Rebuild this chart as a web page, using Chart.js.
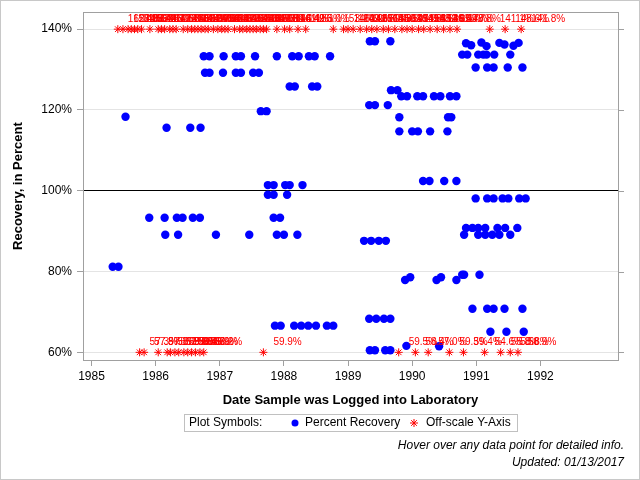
<!DOCTYPE html>
<html>
<head>
<meta charset="utf-8">
<script src="https://cdn.jsdelivr.net/npm/chart.js@4.4.1/dist/chart.umd.min.js"></script>
<style>
html, body { margin: 0; padding: 0; background: #fff; }
#wrap { width: 640px; height: 480px; }
</style>
</head>
<body>
<div id="wrap"><canvas id="graficoRecuperacion" width="640" height="480"></canvas></div>
<script>
// Percent Recovery (blue dots): year logged and recovery in percent
const recoveryYears = [
    1985.33, 1985.42, 1985.53,
    1985.90, 1986.14, 1986.33, 1986.42, 1986.58, 1986.69,
    1986.15, 1986.35, 1986.94, 1987.46,
    1986.17, 1986.54, 1986.70,
    1986.75, 1986.84, 1987.06, 1987.25, 1987.33, 1987.55, 1987.89, 1988.13, 1988.23, 1988.39, 1988.48, 1988.72,
    1986.77, 1986.84, 1987.05, 1987.25, 1987.33, 1987.52, 1987.61,
    1988.09, 1988.17, 1988.44, 1988.52,
    1987.64, 1987.73,
    1987.75, 1987.84, 1988.02, 1988.09, 1988.29,
    1987.75, 1987.84, 1988.05,
    1987.84, 1987.94,
    1987.89, 1988.00, 1988.21,
    1987.86, 1987.95, 1988.16, 1988.27, 1988.38, 1988.50, 1988.67, 1988.77,
    1989.34, 1989.42, 1989.66,
    1990.84, 1990.92, 1991.08, 1991.16, 1991.36, 1991.44, 1991.58, 1991.66,
    1990.78, 1990.86, 1991.03, 1991.11, 1991.16, 1991.28, 1991.53,
    1990.99, 1991.17, 1991.27, 1991.49, 1991.72,
    1989.67, 1989.77,
    1989.83, 1989.92, 1990.08, 1990.17, 1990.34, 1990.44, 1990.59, 1990.69,
    1989.33, 1989.42, 1989.62,
    1989.80, 1990.56, 1990.61,
    1989.80, 1990.00, 1990.09, 1990.28, 1990.55,
    1990.17, 1990.27, 1990.50, 1990.69,
    1990.99, 1991.17, 1991.27, 1991.41, 1991.50, 1991.67, 1991.77,
    1990.84, 1990.94, 1991.03, 1991.14, 1991.33, 1991.45, 1991.64,
    1990.81, 1991.03, 1991.14, 1991.25, 1991.36, 1991.53,
    1989.25, 1989.36, 1989.48, 1989.59,
    1989.89, 1989.97, 1990.38, 1990.45, 1990.69, 1990.78, 1990.81, 1991.05,
    1990.94, 1991.17, 1991.27, 1991.44, 1991.72,
    1989.33, 1989.44, 1989.56, 1989.66,
    1991.22, 1991.47, 1991.74,
    1989.34, 1989.42, 1989.58, 1989.66,
    1989.91, 1990.42
];
const recoveryValues = [
    81.2, 81.2, 118.3,
    93.3, 93.3, 93.3, 93.3, 93.3, 93.3,
    89.1, 89.1, 89.1, 89.1,
    115.6, 115.6, 115.6,
    133.3, 133.3, 133.3, 133.3, 133.3, 133.3, 133.3, 133.3, 133.3, 133.3, 133.3, 133.3,
    129.2, 129.2, 129.2, 129.2, 129.2, 129.2, 129.2,
    125.8, 125.8, 125.8, 125.8,
    119.7, 119.7,
    101.4, 101.4, 101.4, 101.4, 101.4,
    99.0, 99.0, 99.0,
    93.3, 93.3,
    89.1, 89.1, 89.1,
    66.6, 66.6, 66.6, 66.6, 66.6, 66.6, 66.6, 66.6,
    137.0, 137.0, 137.0,
    136.5, 136.0, 136.7, 135.8, 136.6, 136.2, 135.9, 136.6,
    133.7, 133.7, 133.7, 133.7, 133.7, 133.7, 133.7,
    130.5, 130.5, 130.5, 130.5, 130.5,
    124.9, 124.9,
    123.4, 123.4, 123.4, 123.4, 123.4, 123.4, 123.4, 123.4,
    121.2, 121.2, 121.2,
    118.2, 118.2, 118.2,
    114.7, 114.7, 114.7, 114.7, 114.7,
    102.4, 102.4, 102.4, 102.4,
    98.1, 98.1, 98.1, 98.1, 98.1, 98.1, 98.1,
    90.8, 90.8, 90.8, 90.8, 90.8, 90.8, 90.8,
    89.1, 89.1, 89.1, 89.1, 89.1, 89.1,
    87.6, 87.6, 87.6, 87.6,
    77.9, 78.6, 77.9, 78.6, 77.9, 79.2, 79.2, 79.2,
    70.8, 70.8, 70.8, 70.8, 70.8,
    68.3, 68.3, 68.3, 68.3,
    65.1, 65.1, 65.1,
    60.5, 60.5, 60.5, 60.5,
    61.6, 61.5
];

// Off-scale above 140%: year and actual value shown in the label
const highYears = [
    1985.41, 1985.49, 1985.57, 1985.62, 1985.67, 1985.72, 1985.78, 1985.91, 1986.04, 1986.09,
    1986.14, 1986.22, 1986.27, 1986.32, 1986.43, 1986.50, 1986.56, 1986.61, 1986.66, 1986.71,
    1986.77, 1986.82, 1986.90, 1986.97, 1987.03, 1987.08, 1987.13, 1987.23, 1987.31, 1987.36,
    1987.42, 1987.47, 1987.52, 1987.57, 1987.63, 1987.68, 1987.73, 1987.89, 1988.01, 1988.09,
    1988.22, 1988.34,
    1988.77, 1988.93, 1989.00, 1989.08, 1989.19, 1989.29, 1989.37, 1989.45, 1989.55, 1989.63,
    1989.73, 1989.84, 1989.92, 1990.00, 1990.10, 1990.18, 1990.28, 1990.39, 1990.49, 1990.59,
    1990.70, 1991.21, 1991.45, 1991.70
];
const highValues = [
    162.4, 158.0, 171.3, 149.6, 145.2, 188.7, 153.9, 144.1, 167.5, 150.2,
    142.8, 176.4, 160.1, 147.3, 155.5, 181.0, 143.6, 152.7, 149.0, 164.8,
    146.9, 170.2, 158.3, 141.5, 154.4, 149.9, 162.0, 145.7, 173.6, 151.1,
    148.2, 159.4, 143.9, 166.7, 152.3, 147.8, 156.1, 150.6, 144.4, 161.2,
    149.3, 155.0,
    153.2, 146.0, 160.9, 149.8, 142.3, 157.7, 151.4, 168.3, 145.5, 150.0,
    163.1, 147.6, 154.8, 149.1, 158.6, 143.3, 152.9, 146.4, 161.7, 150.7,
    148.8, 141.1, 148.6, 141.8
];

// Off-scale below 60%
const lowYears = [
    1985.75, 1985.82, 1986.04, 1986.18, 1986.23, 1986.30, 1986.36, 1986.44, 1986.50, 1986.56,
    1986.62, 1986.69, 1986.75, 1987.68,
    1989.79, 1990.05, 1990.25, 1990.58, 1990.80, 1991.13, 1991.38, 1991.53, 1991.65
];
const lowValues = [
    57.3, 57.8, 57.1, 58.2, 56.9, 57.5, 58.8, 57.0, 56.4, 58.1,
    57.6, 55.9, 57.2, 59.9,
    59.5, 58.4, 57.0, 59.3, 59.4, 54.6, 55.8, 58.8, 58.9
];

const yearTicks = [1985, 1986, 1987, 1988, 1989, 1990, 1991, 1992];
const percentTicks = [60, 80, 100, 120, 140];
const TOPE_ALTO = 140;
const TOPE_BAJO = 60;
const LINEA_REFERENCIA = 100;

const FUENTE = '"Liberation Sans", Arial, sans-serif';
Chart.defaults.font.family = FUENTE;
Chart.defaults.color = '#000';

function dibujarEstrella(ctx, x, y, r) {
    ctx.beginPath();
    for (let k = 0; k < 4; k++) {
        const a = k * Math.PI / 4;
        ctx.moveTo(x - r * Math.cos(a), y - r * Math.sin(a));
        ctx.lineTo(x + r * Math.cos(a), y + r * Math.sin(a));
    }
    ctx.stroke();
}

const extras = {
    id: 'extras',
    afterDatasetsDraw(chart) {
        const ctx = chart.ctx;
        chart.data.datasets.forEach((ds, i) => {
            if (!ds.etiquetas) return;
            const meta = chart.getDatasetMeta(i);
            ctx.save();
            ctx.font = '10px ' + FUENTE;
            ctx.fillStyle = '#ff0000';
            ctx.textAlign = 'left';
            ctx.textBaseline = 'middle';
            meta.data.forEach((pt, j) => {
                ctx.fillText(ds.etiquetas[j].toFixed(1) + '%', pt.x + 10, pt.y - 10);
            });
            ctx.restore();
        });
    },
    afterDraw(chart) {
        const ctx = chart.ctx;
        const a = chart.chartArea;
        const y = chart.scales.y;
        ctx.save();
        // marco del area
        ctx.strokeStyle = '#a0a0a0';
        ctx.lineWidth = 1;
        ctx.strokeRect(Math.round(a.left) + 0.5, Math.round(a.top) + 0.5,
            Math.round(a.right - a.left), Math.round(a.bottom - a.top));
        // marcas a la derecha
        percentTicks.forEach(v => {
            const py = Math.round(y.getPixelForValue(v)) + 0.5;
            ctx.beginPath();
            ctx.moveTo(a.right, py);
            ctx.lineTo(a.right + 6, py);
            ctx.stroke();
        });

        // leyenda
        ctx.strokeStyle = '#c0c0c0';
        ctx.strokeRect(184.5, 414.5, 333, 17);
        ctx.font = '12px ' + FUENTE;
        ctx.fillStyle = '#000';
        ctx.textBaseline = 'middle';
        ctx.textAlign = 'left';
        ctx.fillText('Plot Symbols:', 189, 423);
        ctx.fillStyle = '#0000ff';
        ctx.beginPath();
        ctx.arc(295, 423, 3.5, 0, Math.PI * 2);
        ctx.fill();
        ctx.fillStyle = '#000';
        ctx.fillText('Percent Recovery', 305, 423);
        ctx.strokeStyle = '#ff0000';
        dibujarEstrella(ctx, 414, 423, 4);
        ctx.fillText('Off-scale Y-Axis', 426, 423);

        // notas al pie
        ctx.font = 'italic 12px ' + FUENTE;
        ctx.textAlign = 'right';
        ctx.fillText('Hover over any data point for detailed info.', 624, 446);
        ctx.fillText('Updated: 01/13/2017', 624, 463);

        // borde exterior
        ctx.strokeStyle = '#c8c8c8';
        ctx.strokeRect(0.5, 0.5, 639, 479);
        ctx.restore();
    }
};

new Chart(document.getElementById('graficoRecuperacion'), {
    type: 'scatter',
    data: {
        datasets: [
            {
                label: 'Off-scale high',
                data: highYears.map(x => ({ x: x, y: TOPE_ALTO })),
                etiquetas: highValues,
                pointStyle: 'star',
                pointRadius: 4,
                borderColor: '#ff0000',
                borderWidth: 1,
                order: 1
            },
            {
                label: 'Off-scale low',
                data: lowYears.map(x => ({ x: x, y: TOPE_BAJO })),
                etiquetas: lowValues,
                pointStyle: 'star',
                pointRadius: 4,
                borderColor: '#ff0000',
                borderWidth: 1,
                order: 1
            },
            {
                label: 'Percent Recovery',
                data: recoveryYears.map((x, i) => ({ x: x, y: recoveryValues[i] })),
                pointStyle: 'circle',
                pointRadius: 4.2,
                backgroundColor: '#0000ff',
                borderColor: '#0000ff',
                borderWidth: 0,
                order: 2
            }
        ]
    },
    options: {
        responsive: false,
        animation: false,
        devicePixelRatio: 1,
        layout: { padding: { left: 0, top: 11, right: 22, bottom: 70 } },
        plugins: {
            legend: { display: false },
            tooltip: { enabled: false }
        },
        scales: {
            x: {
                type: 'linear',
                min: 1984.867,
                max: 1993.21,
                afterBuildTicks: s => { s.ticks = yearTicks.map(v => ({ value: v })); },
                afterFit: s => { s.height = 50; },
                ticks: {
                    callback: v => String(v),
                    font: { size: 12 },
                    color: '#000',
                    padding: 3,
                    maxRotation: 0,
                    autoSkip: false
                },
                grid: { drawOnChartArea: false, drawTicks: true, tickLength: 6, color: '#a0a0a0' },
                border: { color: '#a0a0a0' },
                title: {
                    display: true,
                    text: 'Date Sample was Logged into Laboratory',
                    font: { size: 13, weight: 'bold' },
                    color: '#000',
                    padding: { top: 0, bottom: 2 }
                }
            },
            y: {
                type: 'linear',
                min: 58.1,
                max: 144.2,
                afterBuildTicks: s => { s.ticks = percentTicks.map(v => ({ value: v })); },
                afterFit: s => { s.width = 83; },
                ticks: {
                    callback: v => v + '%',
                    font: { size: 12 },
                    color: '#000',
                    padding: 5
                },
                grid: {
                    color: c => (c.tick && c.tick.value === LINEA_REFERENCIA) ? '#000000' : '#e4e4e4',
                    tickColor: '#a0a0a0',
                    tickLength: 6
                },
                border: { color: '#a0a0a0' },
                title: {
                    display: true,
                    text: 'Recovery, in Percent',
                    font: { size: 13, weight: 'bold' },
                    color: '#000',
                    padding: { top: 11, bottom: 0 }
                }
            }
        }
    },
    plugins: [extras]
});
</script>
</body>
</html>
